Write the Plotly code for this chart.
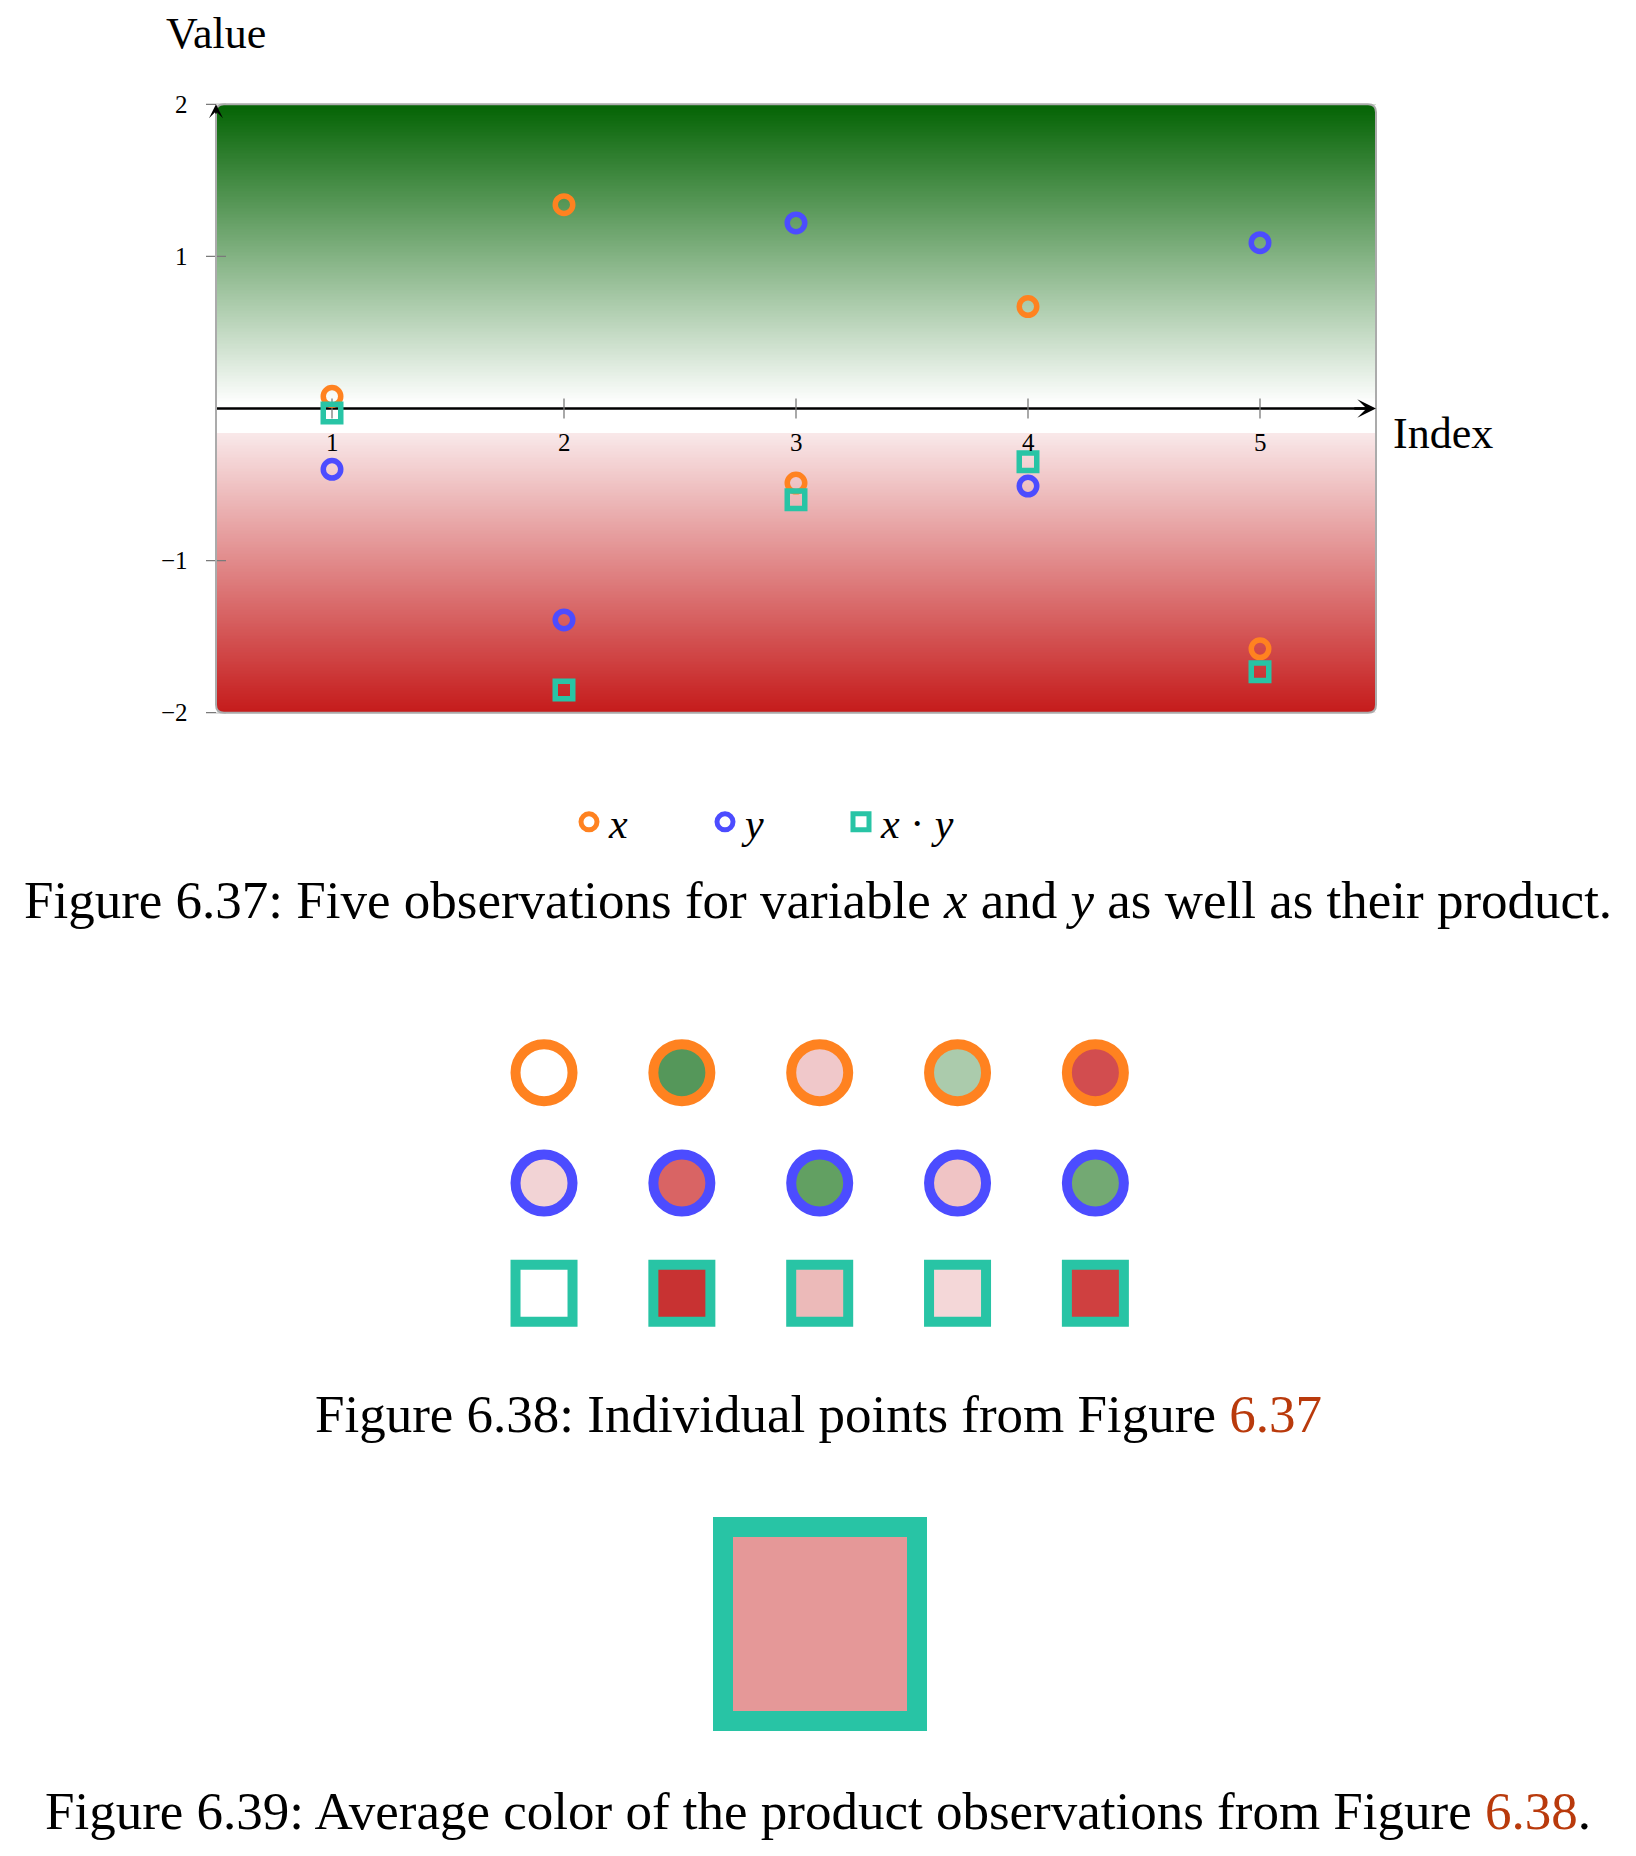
import numpy as np
import plotly.graph_objects as go

W, H = 1636, 1856

# ---------------- data ----------------
index = [1, 2, 3, 4, 5]
x_obs = [0.08, 1.34, -0.49, 0.67, -1.58]
y_obs = [-0.40, -1.39, 1.22, -0.51, 1.09]
xy_obs = [-0.03, -1.85, -0.60, -0.35, -1.73]
series_names = ["<i>x</i>", "<i>y</i>", "<i>x</i> · <i>y</i>"]

x_ticks = [1, 2, 3, 4, 5]
x_tick_labels = ["1", "2", "3", "4", "5"]
y_ticks = [-2, -1, 1, 2]
y_tick_labels = ["−2", "−1", "1", "2"]

# Figure 6.38: individual points (fill = background colour at the point)
rows = [1, 2, 3]
fill_x = ["#ffffff", "#55975a", "#f0c8ca", "#abcbac", "#d24d4f"]
fill_y = ["#f2d3d5", "#d96464", "#62a062", "#f0c4c5", "#73a973"]
fill_xy = ["#ffffff", "#c83232", "#ecbab9", "#f4d7d8", "#cf4040"]

# Figure 6.39: average colour of the product observations
avg_pos = [0]
avg_fill = ["#e59898"]

ORANGE, BLUE, TEAL = "#ff8220", "#4c4cff", "#28c4a5"
LINK = "#b93a0c"
FONT = "Liberation Serif"

captions = [
    "Figure 6.37: Five observations for variable <i>x</i> and <i>y</i> as well as their product.",
    "Figure 6.38: Individual points from Figure <span style='color:%s'>6.37</span>" % LINK,
    "Figure 6.39: Average color of the product observations from Figure <span style='color:%s'>6.38</span>." % LINK,
]

# ---------------- geometry helpers ----------------
def px_x(p):
    return p / W


def px_y(p):
    return 1 - p / H


UX, UY = 232.0, 152.1          # pixels per data unit (main chart)
X0PX, Y0PX = 216.0, 408.5      # pixel of x=0.5 and of y=0
XR = [0.35, 5.6]
YR = [-2.1, 2.1]
x_dom = [px_x(X0PX + (XR[0] - 0.5) * UX), px_x(X0PX + (XR[1] - 0.5) * UX)]
y_dom = [px_y(Y0PX - YR[0] * UY), px_y(Y0PX - YR[1] * UY)]

fig = go.Figure()

# ---------------- background gradient ----------------
yb = np.linspace(-2, 2, 401)
yc = (yb[:-1] + yb[1:]) / 2
cs = [
    [0.0, "#c51b1b"],
    [(-0.16 + 2) / 4, "#f9e9ea"],
    [(-0.159 + 2) / 4, "#ffffff"],
    [(0.03 + 2) / 4, "#ffffff"],
    [1.0, "#036303"],
]
fig.add_trace(go.Heatmap(x=[0.5, 5.5], y=yb, z=yc.reshape(-1, 1), zmin=-2, zmax=2,
                         colorscale=cs, showscale=False, hoverinfo="skip",
                         xaxis="x", yaxis="y"))

# x axis line
fig.add_trace(go.Scatter(x=[0.5, 5.46], y=[0, 0], mode="lines",
                         line=dict(color="black", width=2.6),
                         hoverinfo="skip", showlegend=False, xaxis="x", yaxis="y"))

# tick marks
dy = 10 / UY
dx = 10 / UX
tx, ty = [], []
for t in x_ticks:
    tx += [t, t, None]
    ty += [-dy, dy, None]
for t in y_ticks:
    tx += [0.5 - dx, 0.5 + dx, None]
    ty += [t, t, None]
fig.add_trace(go.Scatter(x=tx, y=ty, mode="lines", line=dict(color="#7a7a7a", width=1.3),
                         hoverinfo="skip", showlegend=False, xaxis="x", yaxis="y"))

# observations
MS, MLW = 17.5, 5.5
for vals, name, col, sym in [(x_obs, series_names[0], ORANGE, "circle-open"),
                             (y_obs, series_names[1], BLUE, "circle-open"),
                             (xy_obs, series_names[2], TEAL, "square-open")]:
    fig.add_trace(go.Scatter(x=index, y=vals, mode="markers", name=name,
                             marker=dict(symbol=sym, size=MS, color=col, line=dict(color=col, width=MLW)),
                             cliponaxis=False, xaxis="x", yaxis="y"))

# ---------------- Figure 6.38 grid ----------------
for r, fills, col, sym in [(rows[0], fill_x, ORANGE, "circle"),
                           (rows[1], fill_y, BLUE, "circle"),
                           (rows[2], fill_xy, TEAL, "square")]:
    fig.add_trace(go.Scatter(x=index, y=[r] * len(index), mode="markers",
                             marker=dict(symbol=sym, size=57, color=fills,
                                         line=dict(color=col, width=10)),
                             showlegend=False, hoverinfo="skip", cliponaxis=False,
                             xaxis="x2", yaxis="y2"))

# ---------------- Figure 6.39 ----------------
fig.add_trace(go.Scatter(x=avg_pos, y=avg_pos, mode="markers",
                         marker=dict(symbol="square", size=194, color=avg_fill,
                                     line=dict(color=TEAL, width=20)),
                         showlegend=False, hoverinfo="skip", cliponaxis=False,
                         xaxis="x3", yaxis="y3"))

# ---------------- shapes: rounded frame ----------------
rx, ry = 8 / UX, 8 / UY
xl, xr, yt, ybm = 0.5, 5.5, 2.0, -2.0
frame = (f"M {xl+rx},{yt} L {xr-rx},{yt} Q {xr},{yt} {xr},{yt-ry} "
         f"L {xr},{ybm+ry} Q {xr},{ybm} {xr-rx},{ybm} L {xl+rx},{ybm} "
         f"Q {xl},{ybm} {xl},{ybm+ry} L {xl},{yt-ry} Q {xl},{yt} {xl+rx},{yt} Z")
corners = [
    f"M {xl},{yt} L {xl+rx},{yt} Q {xl},{yt} {xl},{yt-ry} Z",
    f"M {xr},{yt} L {xr-rx},{yt} Q {xr},{yt} {xr},{yt-ry} Z",
    f"M {xr},{ybm} L {xr-rx},{ybm} Q {xr},{ybm} {xr},{ybm+ry} Z",
    f"M {xl},{ybm} L {xl+rx},{ybm} Q {xl},{ybm} {xl},{ybm+ry} Z",
]
shapes = [dict(type="path", path=c, xref="x", yref="y", fillcolor="white",
               line=dict(width=0), layer="above") for c in corners]
shapes.append(dict(type="path", path=frame, xref="x", yref="y",
                   line=dict(color="#ababab", width=2), layer="above"))

# ---------------- annotations ----------------
ann = []
for t, lab in zip(x_ticks, x_tick_labels):
    ann.append(dict(x=t, y=0, xref="x", yref="y", text=lab, showarrow=False,
                    yanchor="middle", yshift=-34,
                    font=dict(family=FONT, size=25, color="black")))
for t, lab in zip(y_ticks, y_tick_labels):
    ann.append(dict(x=0.5, y=t, xref="x", yref="y", text=lab, showarrow=False,
                    xanchor="right", yanchor="middle", xshift=-26,
                    font=dict(family=FONT, size=25, color="black")))
ann.append(dict(x=0.5, y=px_y(33), xref="x", yref="paper", text="Value", showarrow=False,
                xanchor="center", yanchor="middle",
                font=dict(family=FONT, size=44, color="black")))
ann.append(dict(x=5.5, y=0, xref="x", yref="y", text="Index", showarrow=False,
                xanchor="left", yanchor="middle", xshift=15, yshift=-25,
                font=dict(family=FONT, size=44, color="black")))
# axis arrowheads
ann.append(dict(x=5.5, y=0, ax=5.4, ay=0, xref="x", yref="y", axref="x", ayref="y",
                text="", showarrow=True, arrowhead=3, arrowsize=1.2, arrowwidth=2.6,
                arrowcolor="black", standoff=0))
ann.append(dict(x=0.5, y=2, ax=0.5, ay=1.93, xref="x", yref="y", axref="x", ayref="y",
                text="", showarrow=True, arrowhead=3, arrowsize=1.3, arrowwidth=1.8,
                arrowcolor="black", standoff=0))
# captions
for cap, yc_px in zip(captions, [900, 1414, 1811]):
    ann.append(dict(x=0.5, y=px_y(yc_px), xref="paper", yref="paper", text=cap,
                    showarrow=False, xanchor="center", yanchor="middle",
                    font=dict(family=FONT, size=53, color="black")))

hid = dict(visible=False, showgrid=False, zeroline=False, fixedrange=True)

fig.update_layout(
    width=W, height=H, margin=dict(l=0, r=0, t=0, b=0),
    paper_bgcolor="white", plot_bgcolor="white",
    hovermode=False,
    xaxis=dict(domain=x_dom, range=XR, anchor="y", **hid),
    yaxis=dict(domain=y_dom, range=YR, anchor="x", **hid),
    xaxis2=dict(domain=[px_x(475.1), px_x(1164.3)], range=[0.5, 5.5], anchor="y2", **hid),
    yaxis2=dict(domain=[px_y(1348.5), px_y(1017.5)], range=[3.5, 0.5], anchor="x2", **hid),
    xaxis3=dict(domain=[px_x(700), px_x(940)], range=[-1, 1], anchor="y3", **hid),
    yaxis3=dict(domain=[px_y(1744), px_y(1504)], range=[-1, 1], anchor="x3", **hid),
    shapes=shapes,
    annotations=ann,
    showlegend=True,
    legend=dict(orientation="h", x=px_x(569), xanchor="left", y=px_y(822), yanchor="middle",
                entrywidth=91, entrywidthmode="pixels", bgcolor="rgba(0,0,0,0)",
                font=dict(family=FONT, size=42, color="black"), itemclick=False, itemdoubleclick=False),
)

fig.write_html("out.html")
